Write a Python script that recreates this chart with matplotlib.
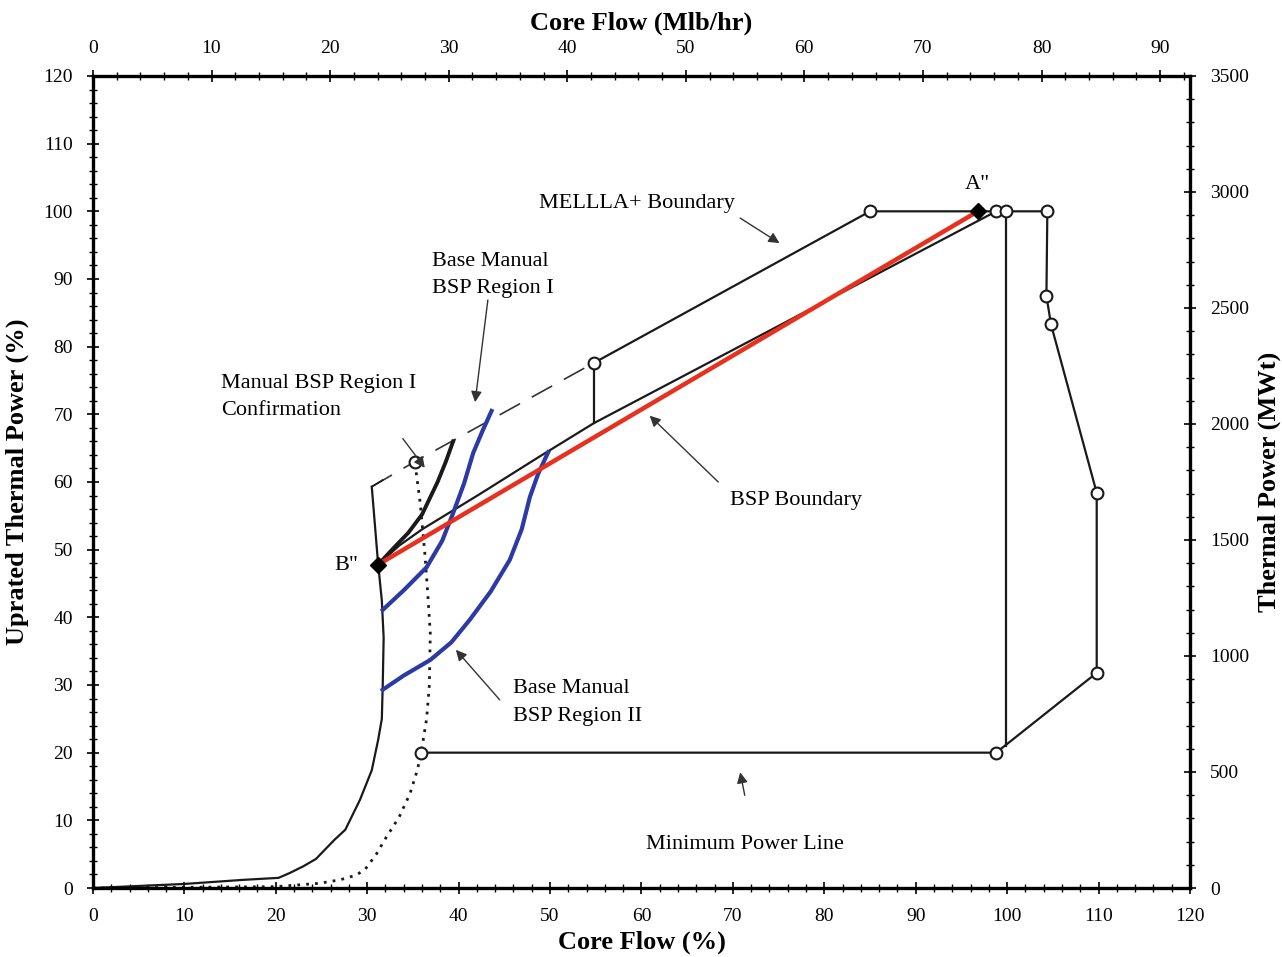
import matplotlib
matplotlib.use('Agg')
import matplotlib.pyplot as plt
from matplotlib.ticker import FixedLocator

plt.rcParams['font.family'] = ['Liberation Serif', 'DejaVu Serif']

# scale conversions for secondary axes
rated_flow_mlb = 77.1        # Mlb/hr at 100 % core flow
rated_power_mwt = 3500 / 1.2  # MWt at 100 % power

# natural circulation line (solid)
nat_circ_x = [0, 5, 10, 16.4, 20.3, 21.5, 23.0, 24.4, 26.4, 27.6, 29.2, 30.5, 31.2,
              31.6, 31.7, 31.8, 31.6, 31.2, 30.5]
nat_circ_y = [0, 0.3, 0.6, 1.2, 1.5, 2.2, 3.2, 4.3, 7.1, 8.6, 13.0, 17.4, 21.9,
              25.0, 30.0, 37.0, 42.5, 47.8, 59.3]

# dotted curve
dotted_x = [0, 10, 20, 24.8, 27.0, 28.8, 29.8, 31.0, 31.9, 33.5, 34.7, 35.5, 35.9,
            36.5, 36.8, 36.9, 36.6, 36.3, 35.8, 35.2]
dotted_y = [0, 0.1, 0.2, 0.7, 1.2, 1.9, 2.8, 5.0, 7.1, 10.5, 14.0, 17.5, 20.0,
            25.0, 30.0, 37.7, 44.0, 49.5, 56.9, 63.0]

# dashed extension of the MELLLA+ upper line
dashed_x = [30.5, 35.2, 54.8]
dashed_y = [59.3, 63.0, 77.6]

# MELLLA+ boundary polygon
mellla_x = [54.8, 85.0, 96.8, 98.8, 99.9, 104.4, 104.3, 104.8, 109.8, 109.8, 98.8, 35.9]
mellla_y = [77.6, 100, 100, 100, 100, 100, 87.5, 83.3, 58.4, 31.8, 20.0, 20.0]
mellla_pts_x = [54.8, 85.0, 98.8, 99.9, 104.4, 104.3, 104.8, 109.8, 109.8, 98.8, 35.9, 35.2]
mellla_pts_y = [77.6, 100, 100, 100, 100, 87.5, 83.3, 58.4, 31.8, 20.0, 20.0, 63.0]

# vertical connectors
vert1_x = [54.8, 54.8]
vert1_y = [77.6, 68.7]
vert2_x = [99.9, 99.9]
vert2_y = [100, 21.0]

# thin black line (lower boundary)
lower_x = [31.2, 33.5, 36.0, 42.3, 48.9, 54.8, 98.8]
lower_y = [47.8, 50.6, 53.0, 58.2, 63.8, 68.7, 100]

# BSP boundary (red)
bsp_x = [31.2, 96.8]
bsp_y = [47.8, 100]

# thick black curve
conf_x = [31.2, 33.0, 34.5, 36.0, 37.7, 38.6, 39.4]
conf_y = [47.8, 50.4, 52.5, 55.2, 60.0, 63.0, 66.0]

# blue curves
region1_x = [31.7, 34.0, 36.5, 38.2, 39.4, 40.6, 41.6, 42.6, 43.6]
region1_y = [41.1, 44.0, 47.4, 51.3, 55.4, 59.8, 64.3, 67.5, 70.5]
region2_x = [31.7, 34.0, 36.9, 39.2, 41.2, 43.5, 45.6, 46.9, 47.8, 48.7, 49.8]
region2_y = [29.3, 31.4, 33.7, 36.3, 39.6, 43.8, 48.5, 53.0, 57.8, 61.2, 64.4]

# state points
a_pt = (96.8, 100)
b_pt = (31.2, 47.8)

# tick values
pct_major = list(range(0, 121, 10))
pct_minor = list(range(0, 121, 2))
mlb_major = list(range(0, 91, 10))
mlb_minor = list(range(0, 93, 2))
mwt_major = list(range(0, 3501, 500))
mwt_minor = list(range(0, 3501, 100))

fig = plt.figure(figsize=(12.82, 9.57), dpi=100)
ax = fig.add_axes([0.0725, 0.0721, 0.8557, 0.8485])

blk = '#1a1a1a'
ax.plot(nat_circ_x, nat_circ_y, color=blk, lw=1.6)
ax.plot(dotted_x, dotted_y, color=blk, lw=2.0, ls=(0, (1, 2.2)))
ax.plot(dashed_x, dashed_y, color='#333333', lw=1.2, dashes=(14, 8))
ax.plot([30.5, 31.7], [59.3, 60.3], color=blk, lw=1.2)
ax.plot(mellla_x, mellla_y, color=blk, lw=1.6)
ax.plot(vert1_x, vert1_y, color=blk, lw=1.6)
ax.plot(vert2_x, vert2_y, color=blk, lw=1.6)
ax.plot(lower_x, lower_y, color=blk, lw=1.6)
ax.plot(region1_x, region1_y, color='#2b3aa5', lw=3.0)
ax.plot(region2_x, region2_y, color='#2b3aa5', lw=3.0)
ax.plot(conf_x, conf_y, color=blk, lw=2.8)
ax.plot(bsp_x, bsp_y, color='#e8301f', lw=3.2)
ax.plot(mellla_pts_x, mellla_pts_y, ls='none', marker='o', ms=8.5,
        mfc='white', mec=blk, mew=1.5)
ax.plot([a_pt[0], b_pt[0]], [a_pt[1], b_pt[1]], ls='none', marker='D', ms=8,
        color='black')

ax.set_xlim(0, 120)
ax.set_ylim(0, 120)
ax.xaxis.set_major_locator(FixedLocator(pct_major))
ax.xaxis.set_minor_locator(FixedLocator(pct_minor))
ax.yaxis.set_major_locator(FixedLocator(pct_major))
ax.yaxis.set_minor_locator(FixedLocator(pct_minor))
ax.tick_params(which='major', direction='inout', length=9, width=1.2,
               labelsize=14, pad=10)
ax.tick_params(which='minor', direction='inout', length=6, width=1.0)
for sp in ax.spines.values():
    sp.set_linewidth(2.4)

ax.set_xlabel('Core Flow (%)', fontsize=19, fontweight='bold', labelpad=4)
ax.set_ylabel('Uprated Thermal Power (%)', fontsize=19, fontweight='bold',
              labelpad=10)

top = ax.secondary_xaxis('top', functions=(lambda x: x * rated_flow_mlb / 100,
                                           lambda m: m * 100 / rated_flow_mlb))
top.xaxis.set_major_locator(FixedLocator(mlb_major))
top.xaxis.set_minor_locator(FixedLocator(mlb_minor))
top.tick_params(which='major', direction='inout', length=9, width=1.2,
                labelsize=14, pad=9)
top.tick_params(which='minor', direction='inout', length=6, width=1.0)
top.set_xlabel('Core Flow (Mlb/hr)', fontsize=19, fontweight='bold', labelpad=8)

right = ax.secondary_yaxis('right', functions=(lambda p: p * rated_power_mwt / 100,
                                               lambda w: w * 100 / rated_power_mwt))
right.yaxis.set_major_locator(FixedLocator(mwt_major))
right.yaxis.set_minor_locator(FixedLocator(mwt_minor))
right.tick_params(which='major', direction='inout', length=9, width=1.2,
                  labelsize=14, pad=10)
right.tick_params(which='minor', direction='inout', length=6, width=1.0)
right.set_ylabel('Thermal Power (MWt)', fontsize=19, fontweight='bold', labelpad=6)

fs = 16
ls2 = 1.6
ax.text(59.5, 101.2, 'MELLLA+ Boundary', fontsize=fs, ha='center', va='center')
ax.text(37.1, 90.6, 'Base Manual\nBSP Region I', fontsize=fs, ha='left',
        va='center', linespacing=ls2)
ax.text(14.0, 72.6, 'Manual BSP Region I\nConfirmation', fontsize=fs, ha='left',
        va='center', linespacing=ls2)
ax.text(69.7, 57.2, 'BSP Boundary', fontsize=fs, ha='left', va='center')
ax.text(45.9, 27.4, 'Base Manual\nBSP Region II', fontsize=fs, ha='left',
        va='center', linespacing=ls2)
ax.text(71.3, 6.5, 'Minimum Power Line', fontsize=fs, ha='center', va='center')
ax.text(96.8, 104.0, 'A"', fontsize=fs, ha='center', va='center')
ax.text(27.7, 47.6, 'B"', fontsize=fs, ha='center', va='center')

arrows = [((70.8, 99.0), (75.1, 95.3)),
          ((43.2, 86.9), (41.8, 71.8)),
          ((33.9, 66.4), (36.3, 62.1)),
          ((68.4, 60.0), (60.9, 69.8)),
          ((44.5, 27.8), (39.7, 35.2)),
          ((71.3, 13.7), (70.8, 17.1))]
for tail, head in arrows:
    ax.annotate('', xy=head, xytext=tail,
                arrowprops=dict(arrowstyle='-|>', color='#333333', lw=1.0,
                                mutation_scale=16, shrinkA=0, shrinkB=0))

fig.savefig('out.png', dpi=100)
